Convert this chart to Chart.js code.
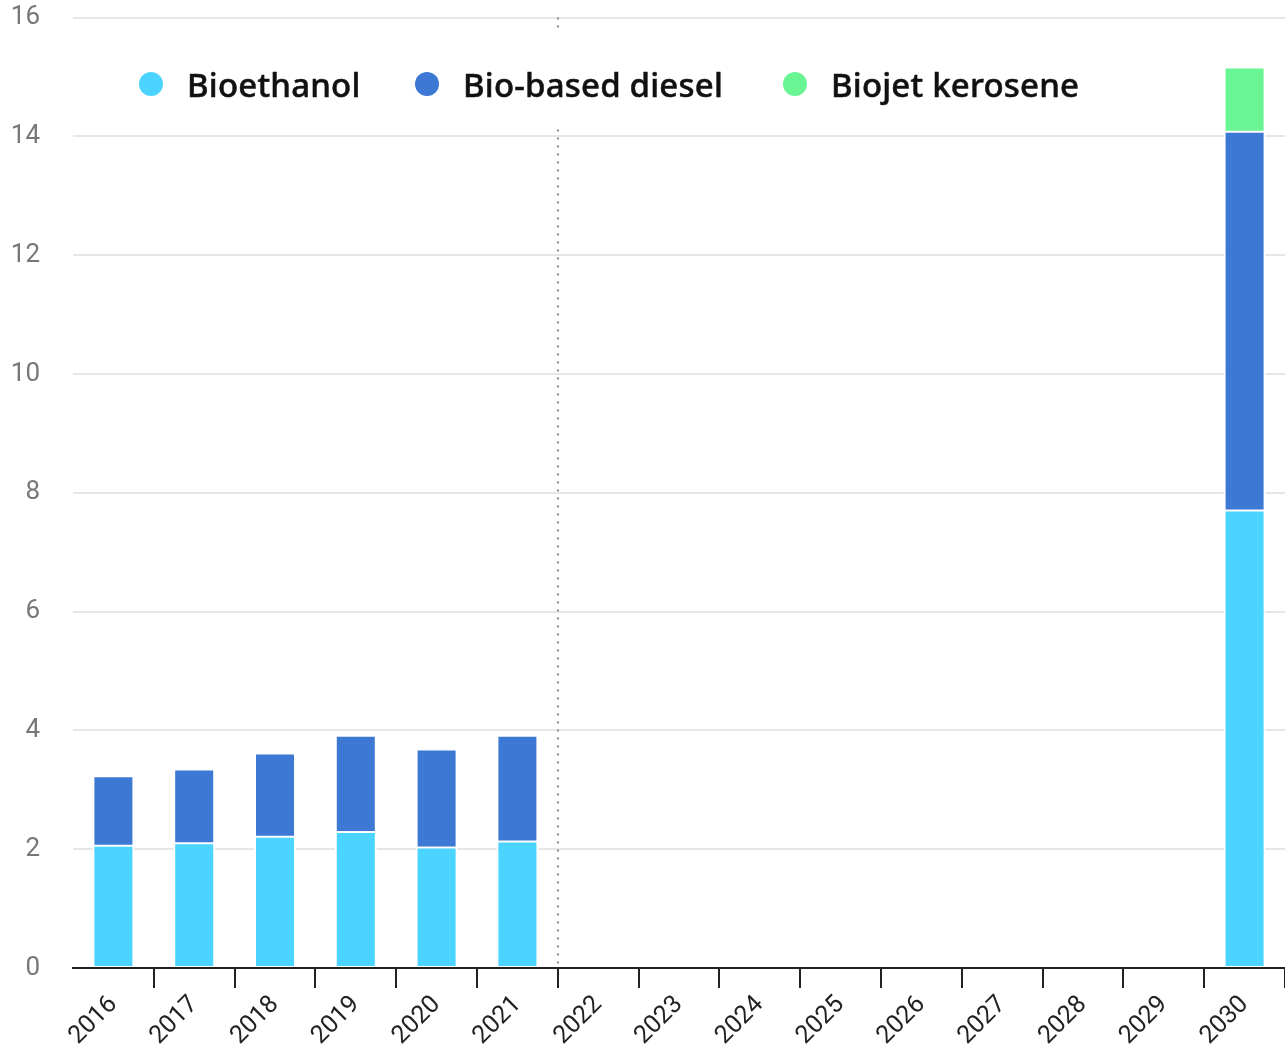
<!DOCTYPE html>
<html lang="en">
<head>
  <meta charset="UTF-8">
  <title>Biofuel demand</title>
  <script src="https://cdn.jsdelivr.net/npm/chart.js"></script>
  <style>
    body { margin: 0; background: white; font-family: Roboto, sans-serif; }
    #wrap { position: relative; width: 1285px; height: 1052px; }
    #legend { position: absolute; left: 125px; top: 32px; width: 975px; height: 96px; background: white; }
    .item { position: absolute; top: 4px; height: 96px; display: flex; align-items: center;
            font-family: "Noto Sans", sans-serif; font-weight: 500; font-size: 33px; letter-spacing: 0.2px;
            -webkit-text-stroke: 0.5px #111; color: #111; white-space: nowrap; }
    .dot { width: 24px; height: 24px; border-radius: 50%; margin-right: 24px; -webkit-text-stroke: 0; }
  </style>
</head>
<body>
  <div id="wrap">
    <canvas id="chart" width="1285" height="1052"></canvas>
    <div id="legend">
      <div class="item" style="left: 14px;"><span class="dot" style="background:#4ad4ff"></span>Bioethanol</div>
      <div class="item" style="left: 290px;"><span class="dot" style="background:#3d78d4"></span>Bio-based diesel</div>
      <div class="item" style="left: 658px;"><span class="dot" style="background:#69f594"></span>Biojet kerosene</div>
    </div>
  </div>

  <script>
    const years = ['2016', '2017', '2018', '2019', '2020', '2021', '2022', '2023',
                   '2024', '2025', '2026', '2027', '2028', '2029', '2030'];
    const bioethanol = [2.06, 2.10, 2.21, 2.29, 2.03, 2.13, null, null, null, null, null, null, null, null, 7.70];
    const bioDiesel  = [1.17, 1.24, 1.40, 1.62, 1.65, 1.78, null, null, null, null, null, null, null, null, 6.38];
    const biojet     = [null, null, null, null, null, null, null, null, null, null, null, null, null, null, 1.08];
    const yTicks = [0, 2, 4, 6, 8, 10, 12, 14, 16];
    const lastHistoric = '2021';

    // dotted line between historic years and projections
    const dividerPlugin = {
      id: 'divider',
      beforeDatasetsDraw(chart) {
        const x = chart.scales.x;
        const i = years.indexOf(lastHistoric);
        const px = Math.round((x.getPixelForValue(i) + x.getPixelForValue(i + 1)) / 2);
        const c = chart.ctx;
        c.save();
        c.strokeStyle = '#8a8a8a';
        c.lineWidth = 2;
        c.setLineDash([2, 6]);
        c.beginPath();
        c.moveTo(px, chart.chartArea.top);
        c.lineTo(px, chart.chartArea.bottom - 4);
        c.stroke();
        c.restore();
      }
    };

    const barStyle = {
      borderColor: '#ffffff',
      borderWidth: { top: 1, bottom: 1, left: 2, right: 2 },
      borderSkipped: false,
      barPercentage: 0.52,
      categoryPercentage: 1
    };

    new Chart(document.getElementById('chart').getContext('2d'), {
      type: 'bar',
      data: {
        labels: years,
        datasets: [
          { label: 'Bioethanol', data: bioethanol, backgroundColor: '#4ad4ff', ...barStyle },
          { label: 'Bio-based diesel', data: bioDiesel, backgroundColor: '#3d78d4', ...barStyle },
          { label: 'Biojet kerosene', data: biojet, backgroundColor: '#69f594', ...barStyle }
        ]
      },
      options: {
        responsive: false,
        animation: false,
        layout: { padding: 0 },
        plugins: {
          legend: { display: false },
          tooltip: { enabled: false }
        },
        scales: {
          x: {
            stacked: true,
            offset: true,
            grid: {
              offset: true,
              drawOnChartArea: false,
              drawTicks: true,
              tickLength: 20,
              lineWidth: 2,
              color: ctx => ctx.index === 0 ? 'rgba(0,0,0,0)' : '#222'
            },
            border: { display: true, color: '#222', width: 2 },
            ticks: {
              color: '#222',
              font: { family: 'Roboto', size: 25 },
              minRotation: 45,
              maxRotation: 45,
              autoSkip: false,
              padding: 2
            },
            afterFit: s => { s.height = 84; }
          },
          y: {
            stacked: true,
            min: 0,
            max: 16,
            afterBuildTicks: s => { s.ticks = yTicks.map(v => ({ value: v })); },
            ticks: {
              color: '#777',
              font: { family: 'Roboto', size: 26 },
              padding: 2
            },
            grid: { color: '#e6e6e6', lineWidth: 2, drawTicks: true, tickLength: 31, tickColor: 'rgba(0,0,0,0)' },
            border: { display: false },
            afterFit: s => { s.width = 73; }
          }
        }
      },
      plugins: [dividerPlugin]
    });
  </script>
</body>
</html>
